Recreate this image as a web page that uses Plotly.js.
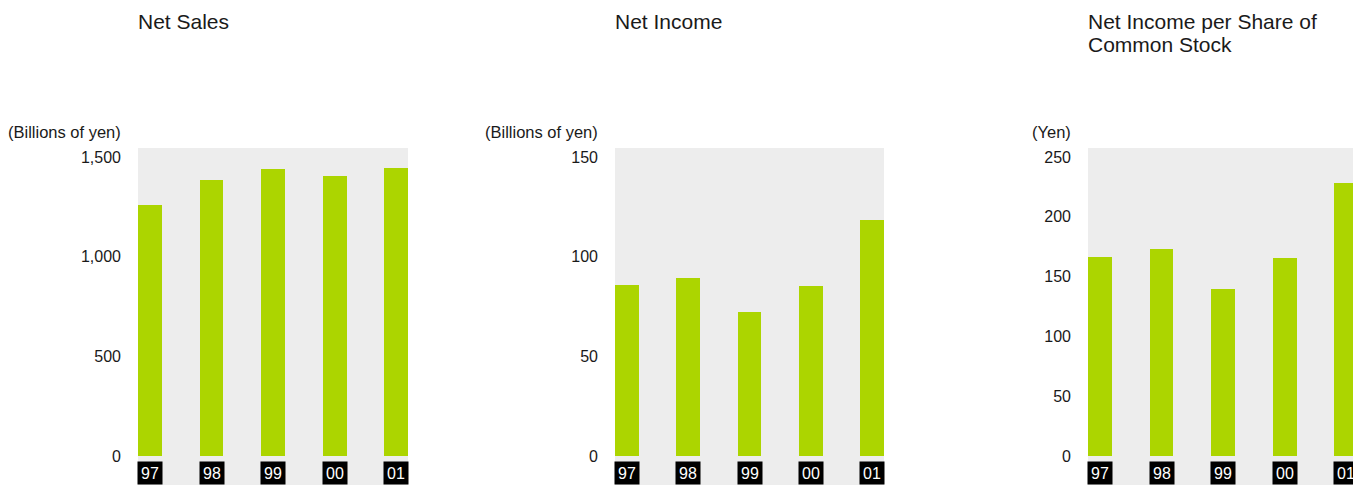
<!DOCTYPE html>
<html>
<head>
<meta charset="utf-8">
<script src="https://cdn.plot.ly/plotly-3.0.1.min.js"></script>
<style>
  html, body { margin: 0; padding: 0; overflow: hidden; background: #ffffff; }
  #chart { width: 1360px; height: 485px; }
</style>
</head>
<body>
<div id="chart"></div>
<script>
// ---- data ----
var years = ['97', '98', '99', '00', '01'];
var netSales = [1259, 1385, 1440, 1405, 1445];          // billions of yen
var netIncome = [85.8, 89.3, 72.2, 85.3, 118.4];        // billions of yen
var netIncomePerShare = [166.4, 173.1, 139.6, 165.6, 228.6]; // yen

var titles = ['Net Sales', 'Net Income', ['Net Income per Share of', 'Common Stock']];
var unitLabels = ['(Billions of yen)', '(Billions of yen)', '(Yen)'];
var tickSets = [[0, 500, 1000, 1500], [0, 50, 100, 150], [0, 50, 100, 150, 200, 250]];
var tickTexts = [['0', '500', '1,000', '1,500'], ['0', '50', '100', '150'], ['0', '50', '100', '150', '200', '250']];

// ---- styling / geometry ----
var W = 1360, H = 485, T = 148;
var plotH = H - T;
var green = '#acd500';
var gray = '#ededed';
var ink = '#1a1a1a';
var font = 'Liberation Sans, Arial, Helvetica, sans-serif';
var domains = [[138, 408], [615, 884], [1088, 1358]];
var yRanges = [[-145.5, 1545], [-14.55, 154.5], [-24.2, 257.5]];
var series = [netSales, netIncome, netIncomePerShare];
var barW = 0.39;

function py(px) { return (H - px) / plotH; }

var data = [];
var layout = {
  width: W, height: H,
  margin: {l: 0, r: 0, t: T, b: 0, pad: 0},
  paper_bgcolor: '#ffffff',
  plot_bgcolor: gray,
  showlegend: false,
  font: {family: font, color: ink, size: 16},
  annotations: [],
  bargap: 0
};

for (var i = 0; i < 3; i++) {
  var sfx = i === 0 ? '' : String(i + 1);
  data.push({
    type: 'bar',
    x: years,
    y: series[i],
    width: barW,
    marker: {color: green, line: {width: 0}},
    xaxis: 'x' + sfx,
    yaxis: 'y' + sfx,
    hoverinfo: 'x+y'
  });
  layout['xaxis' + sfx] = {
    domain: [domains[i][0] / W, domains[i][1] / W],
    type: 'category',
    range: [-barW / 2, years.length - 1 + barW / 2],
    showticklabels: false,
    showgrid: false, zeroline: false, showline: false, ticks: '',
    anchor: 'y' + sfx,
    fixedrange: true
  };
  layout['yaxis' + sfx] = {
    domain: [0, 1],
    range: yRanges[i],
    tickvals: tickSets[i],
    ticktext: tickTexts[i],
    showgrid: false, zeroline: false, showline: false, ticks: '',
    ticklabelstandoff: 16,
    tickfont: {family: font, size: 16, color: ink},
    anchor: 'x' + sfx,
    fixedrange: true
  };
  // unit label
  layout.annotations.push({
    text: unitLabels[i],
    xref: 'x' + sfx + ' domain', x: 0, xanchor: 'right', xshift: -15,
    yref: 'paper', y: py(132), yanchor: 'middle',
    showarrow: false,
    font: {family: font, size: 16.5, color: ink}
  });
  // panel title
  var t = titles[i];
  var lines = Array.isArray(t) ? t : [t];
  for (var k = 0; k < lines.length; k++) {
    layout.annotations.push({
      text: lines[k],
      xref: 'x' + sfx + ' domain', x: 0, xanchor: 'left', xshift: -2,
      yref: 'paper', y: py(22 + 22 * k), yanchor: 'middle',
      showarrow: false,
      font: {family: font, size: 21, color: ink}
    });
  }
  // year label boxes (positioned by category index)
  for (var j = 0; j < years.length; j++) {
    layout.annotations.push({
      text: years[j],
      xref: 'x' + sfx, x: j, xanchor: 'center',
      yref: 'paper', y: 0, yanchor: 'bottom',
      width: 24, height: 22, borderpad: 0,
      bgcolor: '#000000',
      showarrow: false,
      font: {family: font, size: 16, color: '#ffffff'}
    });
  }
}

Plotly.newPlot('chart', data, layout, {displayModeBar: false, staticPlot: true});
</script>
</body>
</html>
